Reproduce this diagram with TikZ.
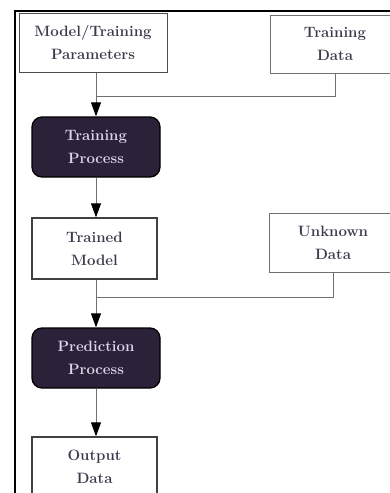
\documentclass[tikz,border=0pt]{standalone}
\usepackage{tikz}
\usetikzlibrary{arrows.meta,positioning}
\definecolor{procfill}{HTML}{2B2139}
\definecolor{proctext}{HTML}{DCD6EA}
\definecolor{boxtext}{HTML}{3E3A4C}
\definecolor{linegray}{HTML}{707070}
\tikzset{
  labelfont/.style={font=\fontsize{15}{23}\selectfont\bfseries},
  databox/.style={draw=linegray,line width=0.8pt,fill=white,text=boxtext,align=center,labelfont,inner sep=0pt},
  modelbox/.style={databox,draw=black!75,line width=1.3pt},
  procbox/.style={draw=black,line width=1.3pt,fill=procfill,text=proctext,rounded corners=10pt,align=center,labelfont,
    minimum width=128pt,minimum height=60pt,inner sep=0pt},
  flow/.style={draw=linegray,line width=0.9pt},
  flowarrow/.style={flow,-{Triangle[length=14pt,width=10pt,color=black]}}
}

\begin{document}
\begin{tikzpicture}[x=1pt,y=-1pt]
  \useasboundingbox (0,0) rectangle (389,493);
  \draw[line width=2pt] (15,494) -- (15,11) -- (390,11);
  % inputs and stages
  \node[databox,draw=black!70,line width=1pt,minimum width=148pt,minimum height=59pt] (params) at (93,42.5) {Model/Training\\Parameters};
  \node[databox,minimum width=130pt,minimum height=58pt] (traindata) at (335,44) {Training\\Data};
  \node[procbox] (trainproc) at (96,147) {Training\\Process};
  \node[modelbox,minimum width=125pt,minimum height=61pt] (trained) at (94.5,248.5) {Trained\\Model};
  \node[databox,minimum width=128pt,minimum height=59pt] (unknown) at (333,242.5) {Unknown\\Data};
  \node[procbox] (predproc) at (96,358) {Prediction\\Process};
  \node[modelbox,minimum width=125pt,minimum height=60pt] (output) at (94.5,467) {Output\\Data};
  \coordinate (joinA) at (96,96);
  \coordinate (joinB) at (96,297);
  % connectors
  \draw[flow] (traindata.south) |- (joinA);
  \draw[flowarrow] (params.south -| trainproc.north) -- (trainproc.north);
  \draw[flowarrow] (trainproc.south) -- (trained.north -| trainproc.south);
  \draw[flow] (unknown.south) |- (joinB);
  \draw[flowarrow] (trained.south -| predproc.north) -- (predproc.north);
  \draw[flowarrow] (predproc.south) -- (output.north -| predproc.south);
\end{tikzpicture}
\end{document}
